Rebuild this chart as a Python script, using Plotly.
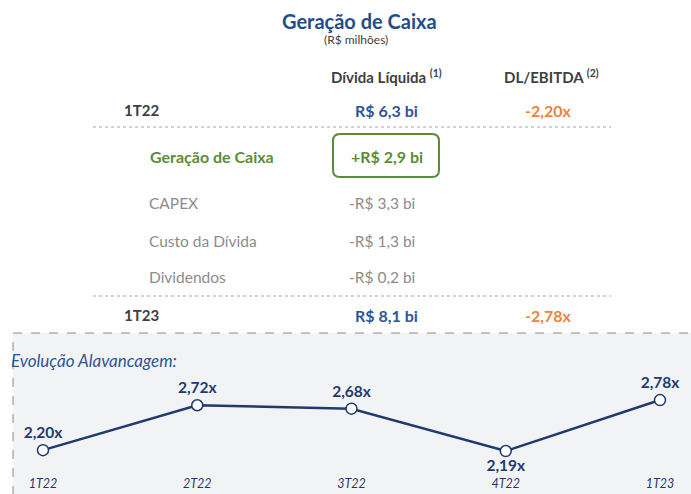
import plotly.graph_objects as go

W, H = 691, 494

# ---------------- data ----------------
title = "Geração de Caixa"
subtitle = "(R$ milhões)"
col_headers = ["Dívida Líquida <sup>(1)</sup>", "DL/EBITDA <sup>(2)</sup>"]
period_rows = ["1T22", "1T23"]
net_debt_bi = [6.3, 8.1]
leverage_signed = [-2.20, -2.78]
flow_items = ["Geração de Caixa", "CAPEX", "Custo da Dívida", "Dividendos"]
flow_values_bi = [2.9, -3.3, -1.3, -0.2]
chart_title = "Evolução Alavancagem:"
quarters = ["1T22", "2T22", "3T22", "4T22", "1T23"]
leverage = [2.20, 2.72, 2.68, 2.19, 2.78]

# ---------------- helpers ----------------
FONT = "Lato, 'Open Sans', sans-serif"
NAVY = "#1F3A6E"
TITLE_BLUE = "#1F4E8C"
VAL_BLUE = "#2F5597"
ORANGE = "#EE8434"
GREEN = "#5B8C3A"
DARK = "#404040"
GRAY = "#8C8C8C"


def px(x):
    return x / W


def py(y):
    return 1 - y / H


def num(v, d):
    return f"{abs(v):.{d}f}".replace(".", ",")


def ann(x, y, text, color, size, bold=False, italic=False, xanchor="center"):
    t = text
    if bold:
        t = f"<b>{t}</b>"
    if italic:
        t = f"<i>{t}</i>"
    return dict(x=px(x), y=py(y), xref="paper", yref="paper", text=t,
                showarrow=False, xanchor=xanchor, yanchor="middle",
                font=dict(family=FONT, size=size, color=color))


annotations = []
annotations.append(ann(359, 21, title, TITLE_BLUE, 20, bold=True))
annotations.append(ann(356, 39, subtitle, DARK, 12))
annotations.append(ann(387, 77, col_headers[0], DARK, 15, bold=True))
annotations.append(ann(551, 77, col_headers[1], DARK, 15, bold=True))

row_y = [110, 315]
for i, lab in enumerate(period_rows):
    annotations.append(ann(122, row_y[i], lab, DARK, 15, bold=True, xanchor="left"))
    annotations.append(ann(386, row_y[i], f"R$ {num(net_debt_bi[i], 1)} bi", VAL_BLUE, 16, bold=True))
    sign = "-" if leverage_signed[i] < 0 else ""
    annotations.append(ann(548, row_y[i], f"{sign}{num(leverage_signed[i], 2)}x", ORANGE, 16, bold=True))

flow_y = [156, 203, 241, 277]
for i, lab in enumerate(flow_items):
    v = flow_values_bi[i]
    sign = "+" if v > 0 else "-"
    txt = f"{sign}R$ {num(v, 1)} bi"
    if i == 0:
        annotations.append(ann(148, flow_y[i], lab, GREEN, 16, bold=True, xanchor="left"))
        annotations.append(ann(387, flow_y[i], txt, GREEN, 16, bold=True))
    else:
        annotations.append(ann(147, flow_y[i], lab, GRAY, 15.5, xanchor="left"))
        annotations.append(ann(382, flow_y[i], txt, GRAY, 15.5))

annotations.append(ann(9, 360, chart_title, "#2B5797", 17, italic=True, xanchor="left"))

# ---------------- shapes ----------------
shapes = []
# grey dashed panel
shapes.append(dict(type="rect", xref="paper", yref="paper",
                   x0=px(13), x1=px(700), y0=py(333), y1=py(510),
                   fillcolor="#F2F3F5", line=dict(color="#8A8A8A", width=1, dash="dash"),
                   layer="below"))
# dotted separators
for yy in [127, 296]:
    shapes.append(dict(type="line", xref="paper", yref="paper",
                       x0=px(93), x1=px(611), y0=py(yy), y1=py(yy),
                       line=dict(color="#A6A6A6", width=1, dash="dot")))
# rounded green box
x0, y0, x1, y1, r = 333, 134, 439, 177, 7
path = (f"M {px(x0 + r)},{py(y0)} L {px(x1 - r)},{py(y0)} "
        f"Q {px(x1)},{py(y0)} {px(x1)},{py(y0 + r)} L {px(x1)},{py(y1 - r)} "
        f"Q {px(x1)},{py(y1)} {px(x1 - r)},{py(y1)} L {px(x0 + r)},{py(y1)} "
        f"Q {px(x0)},{py(y1)} {px(x0)},{py(y1 - r)} L {px(x0)},{py(y0 + r)} "
        f"Q {px(x0)},{py(y0)} {px(x0 + r)},{py(y0)} Z")
shapes.append(dict(type="path", xref="paper", yref="paper", path=path,
                   line=dict(color=GREEN, width=2)))

# ---------------- chart ----------------
labels = [f"{num(v, 2)}x" for v in leverage]
positions = ["top center", "top center", "top center", "bottom center", "top center"]

fig = go.Figure()
fig.add_trace(go.Scatter(
    x=quarters, y=leverage, mode="lines+markers+text",
    line=dict(color=NAVY, width=2.5),
    marker=dict(size=11, color="white", line=dict(color=NAVY, width=1.5)),
    text=labels, textposition=positions,
    textfont=dict(family=FONT, size=15.5, color=NAVY, weight="bold"),
    cliponaxis=False, hoverinfo="skip", showlegend=False,
))

fig.update_layout(
    width=W, height=H,
    margin=dict(l=0, r=0, t=0, b=0),
    paper_bgcolor="white", plot_bgcolor="rgba(0,0,0,0)",
    annotations=annotations, shapes=shapes,
    xaxis=dict(domain=[0, 1], type="category", range=[-0.2788, 4.201],
               showgrid=False, zeroline=False, showline=False, ticks="",
               tickfont=dict(family=FONT, size=12.5, color=NAVY, style="italic"),
               fixedrange=True),
    yaxis=dict(domain=[1 - 474 / H, 1 - 370 / H], range=[1.924, 3.128],
               visible=False, showgrid=False, fixedrange=True),
)

fig.write_html("out.html",
               config={"displayModeBar": False, "staticPlot": True},
               post_script="document.body.style.margin='0';document.body.style.overflow='hidden';")
